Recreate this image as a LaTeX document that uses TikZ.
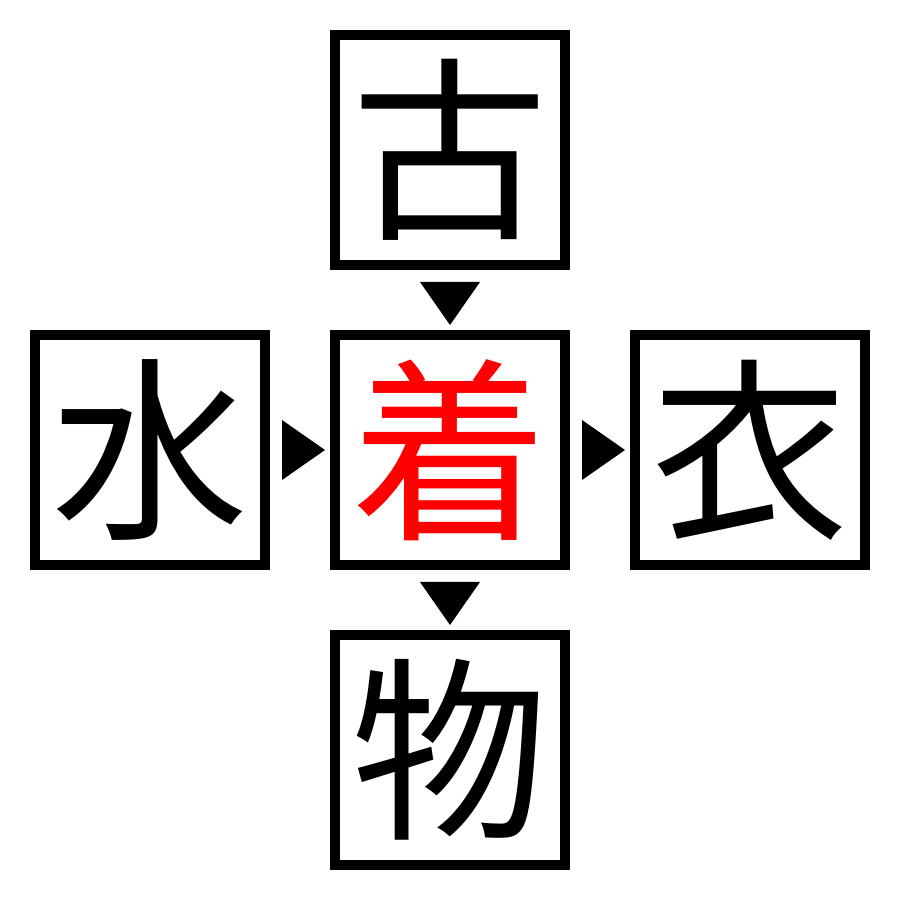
\documentclass[tikz,border=0pt]{standalone}
\usepackage{fontspec}
\newfontfamily\cjk{Noto Sans CJK JP}
\usetikzlibrary{calc}

\tikzset{
  kanji/.style = {draw, line width = .1cm, minimum size = 2.3cm, inner sep = 0pt,
    font = \cjk\fontsize{56}{56}\selectfont}
}

\begin{document}
\begin{tikzpicture}
\useasboundingbox (0,0) rectangle (9,9);
\node[kanji] (ko)   at (4.5,7.5) {古};
\node[kanji] (mizu) at (1.5,4.5) {水};
\node[kanji, text = red] (ki) at (4.5,4.5) {着};
\node[kanji] (koromo) at (7.5,4.5) {衣};
\node[kanji] (mono) at (4.5,1.5) {物};
% arrows pointing down
\foreach \a/\b in {ko/ki, ki/mono}
  \fill ($(\a.south)!.5!(\b.north) + (-.3,.18)$) -- ++(.6,0) -- ++(-.3,-.43) -- cycle;
% arrows pointing right
\foreach \a/\b in {mizu/ki, ki/koromo}
  \fill ($(\a.east)!.5!(\b.west) + (-.18,.3)$) -- ++(0,-.6) -- ++(.43,.3) -- cycle;
\end{tikzpicture}
\end{document}
